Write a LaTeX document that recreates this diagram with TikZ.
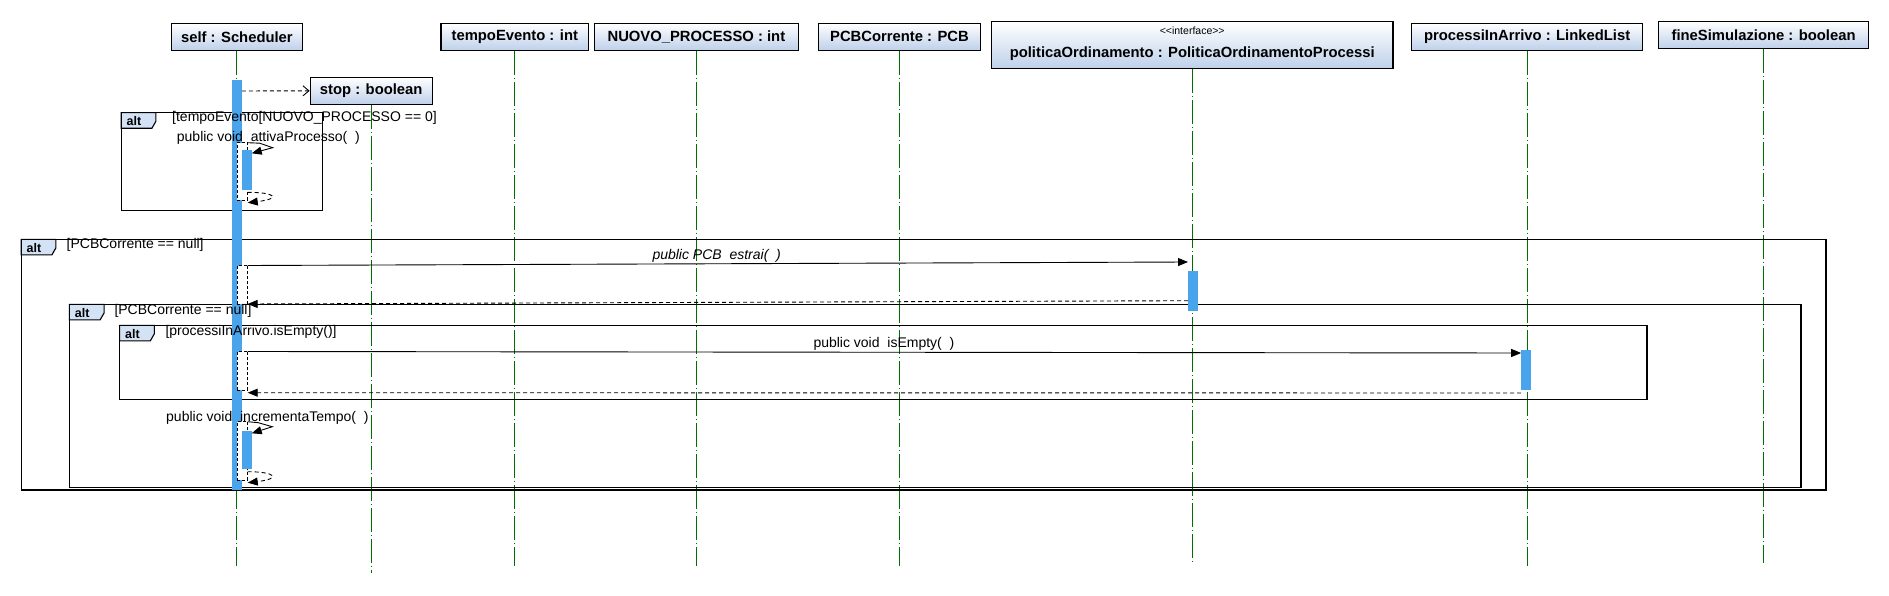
\documentclass[tikz,border=0pt]{standalone}
\usepackage{fontspec}
\setmainfont{Liberation Sans}
\usetikzlibrary{arrows.meta}
\tikzset{>=stealth}
\definecolor{lifegreen}{RGB}{0,110,0}
\definecolor{actblue}{RGB}{74,164,236}
\definecolor{boxblue}{RGB}{190,208,234}
\definecolor{tabblue}{RGB}{212,226,245}
\tikzset{
	obj/.style={draw, line width=1.1pt, top color=white, bottom color=boxblue, inner sep=0pt, minimum height=27pt, font=\bfseries\fontsize{14.8}{17}\selectfont},
	life/.style={lifegreen, line width=0.9pt, dash pattern=on 24pt off 3pt on 1pt off 3pt},
	act/.style={fill=actblue, draw=none, inner sep=0pt, outer sep=0pt, minimum width=9.5pt},
	exec/.style={draw, fill=white, line width=0.8pt, dash pattern=on 3pt off 2pt, inner sep=0pt, outer sep=0pt, minimum width=10.4pt, anchor=north west},
	frm/.style={line width=1.1pt},
	lbl/.style={inner sep=0pt, anchor=west, font=\fontsize{14}{16}\selectfont},
	tabtxt/.style={inner sep=0pt, font=\bfseries\fontsize{12.5}{14}\selectfont},
	msg/.style={line width=0.9pt, -{Triangle[length=10pt,width=8pt]}},
	ret/.style={line width=0.9pt, dash pattern=on 4pt off 3pt, -{Triangle[length=10pt,width=8pt]}},
	crt/.style={line width=0.9pt, dash pattern=on 4pt off 3pt, -{Straight Barb[length=6pt,width=10pt]}}
}
\begin{document}
\begin{tikzpicture}[x=1pt,y=-1pt]
			\useasboundingbox (0,0) rectangle (1889,596);
			\node[obj, minimum width=131pt] (self) at (236.9,36.8) {self : Scheduler};
			\node[obj, minimum width=147.6pt] (tempo) at (514.8,36.8) {tempoEvento : int};
			\node[obj, minimum width=204.2pt] (nuovo) at (696.4,36.8) {NUOVO\_PROCESSO : int};
			\node[obj, minimum width=162.5pt] (pcb) at (899.5,36.8) {PCBCorrente : PCB};
			\node[obj, minimum width=401.5pt, minimum height=46.8pt] (pol) at (1192.2,45.1) {};
			\node[inner sep=0pt, font=\fontsize{10.5}{12}\selectfont] (polst) at (1192.2,30.7) {<{}<interface>{}>};
			\node[inner sep=0pt, font=\bfseries\fontsize{14.8}{17}\selectfont] (polnm) at (1192.2,54) {politicaOrdinamento : PoliticaOrdinamentoProcessi};
			\node[obj, minimum width=231pt] (coda) at (1527.1,36.8) {processiInArrivo : LinkedList};
			\node[obj, minimum width=209.6pt] (fine) at (1763.6,35.2) {fineSimulazione : boolean};
			\node[obj, minimum width=122pt] (stop) at (371.2,90.8) {stop : boolean};
			\foreach \o/\e in {self/566, tempo/566, nuovo/566, pcb/566, pol/564, coda/566, fine/563, stop/573}
			\draw[life] (\o.south) -- (\o.south |- 0,\e);
			\foreach \n/\xa/\ya/\xb/\yb in {a/121.2/112.7/322.4/210.3, b/21.2/239.3/1826/490, c/69.4/304.3/1801/487.3, d/119.6/325.3/1647/399.3} {
				\draw[frm] (\xa,\ya) rectangle (\xb,\yb);
				\filldraw[frm, fill=tabblue] (\xa,\ya) -- ++(34.7,0) -- ++(0,8.6) -- ++(-4,7) -- (\xa,\ya+15.6) -- cycle;
				\node[tabtxt] (tab\n) at (\xa+12.8,\ya+8.4) {alt};
			}
			\node[act, minimum height=410pt, anchor=north] (bself) at (237,80) {};
			\node[exec, minimum height=57.3pt] (ex1) at (237.3,142.7) {};
			\node[exec, minimum height=38.5pt] (ex2) at (237.3,265.5) {};
			\node[exec, minimum height=38.5pt] (ex3) at (237.3,351.5) {};
			\node[exec, minimum height=58.3pt] (ex4) at (237.3,421.7) {};
			\node[act, minimum width=9.4pt, minimum height=40pt, anchor=north west] (bn1) at (242.3,150) {};
			\node[act, minimum width=9.4pt, minimum height=38.6pt, anchor=north west] (bn2) at (242.3,430.7) {};
			\node[act, minimum width=9.6pt, minimum height=39.7pt, anchor=north west] (bpol) at (1188,271) {};
			\node[act, minimum width=10.1pt, minimum height=40pt, anchor=north west] (bcoda) at (1521.2,350) {};
			\node[lbl] (g1) at (172,118) {[tempoEvento[NUOVO\_PROCESSO == 0]};
			\node[lbl] (g2) at (66.5,245) {[PCBCorrente == null]};
			\node[lbl] (g3) at (114.3,310.7) {[PCBCorrente == null]};
			\node[lbl] (g4) at (165.3,331.7) {[processiInArrivo.isEmpty()]};
			\node[lbl] (m1) at (176.7,138) {public void\ \ attivaProcesso(\ \ )};
			\node[lbl, font=\itshape\fontsize{14}{16}\selectfont] (m2) at (652.3,255.7) {public PCB\ \ estrai(\ \ )};
			\node[lbl] (m3) at (813.3,344) {public void\ \ isEmpty(\ \ )};
			\node[lbl] (m4) at (166,418.3) {public void\ \ incrementaTempo(\ \ )};
			\draw[crt] (bself.east |- 0,91) -- (stop.west);
			\draw[msg] (ex1.north east) -- ++(12,0.5) -- ++(13,4.5) -- ([yshift=-3.3pt]bn1.north east);
			\draw[ret] ([yshift=7.7pt]ex1.south east) .. controls +(28,0) and +(34,-4) .. ([yshift=-2.7pt]ex1.south east);
			\draw[msg] (ex2.north east) -- (bpol.north west |- 0,262);
			\draw[ret] ([yshift=10pt]bpol.south west) -- (ex2.south east);
			\draw[msg] (ex3.north east) -- ([yshift=-3pt]bcoda.north west);
			\draw[ret] ([yshift=-3pt]bcoda.south west) -- ([yshift=-2.7pt]ex3.south east);
			\draw[msg] (ex4.north east) -- ++(10.6,1) -- ++(14,4) -- ([yshift=-2.6pt]bn2.north east);
			\draw[ret] ([yshift=8.3pt]ex4.south east) .. controls +(28,0) and +(34,-4) .. ([yshift=-2.7pt]ex4.south east);
		\end{tikzpicture}
\end{document}
